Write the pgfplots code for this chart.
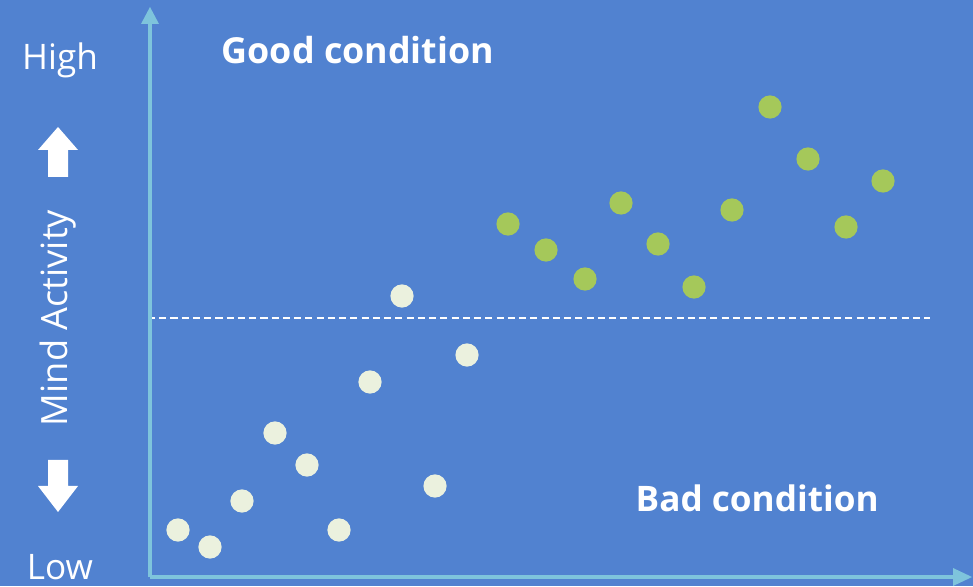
\documentclass[border=0pt]{standalone}
\usepackage{pgfplots}
\pgfplotsset{compat=1.18}
\usepackage{fontspec}
\setmainfont{Open Sans}
\definecolor{bgblue}{HTML}{5182D0}
\definecolor{axcyan}{HTML}{7EC4DC}
\definecolor{ptwhite}{HTML}{EBF1DE}
\definecolor{ptgreen}{HTML}{A5C85A}
\begin{document}
\begin{tikzpicture}
\begin{axis}[
    width=9.73cm, height=5.86cm,
    scale only axis,
    xmin=0, xmax=973, ymin=0, ymax=586,
    axis lines=none,
    axis background/.style={fill=bgblue},
    clip=false,
]
% dashed threshold
\draw[white, line width=0.6pt, dash pattern=on 2pt off 1.2pt] (148,268) -- (930,268);
% axes with arrows
\draw[axcyan, line width=1.4pt] (150,9) -- (150,564);
\fill[axcyan] (141,562) -- (159,562) -- (150,579) -- cycle;
\draw[axcyan, line width=1.4pt] (150,9) -- (955,9);
\fill[axcyan] (953,0) -- (953,18) -- (972,9) -- cycle;
% white arrows
\fill[white] (48,409) -- (68,409) -- (68,436) -- (78,436) -- (58,459) -- (38,436) -- (48,436) -- cycle;
\fill[white] (48,126) -- (68,126) -- (68,100) -- (78,100) -- (58,74) -- (38,100) -- (48,100) -- cycle;
% labels
\node[white, font=\fontsize{10}{12}\selectfont] at (60,526) {High};
\node[white, font=\fontsize{10}{12}\selectfont] at (60,19) {Low};
\node[white, rotate=90, font=\fontsize{10.3}{12}\selectfont] at (58,268) {Mind Activity};
\node[white, anchor=west, inner sep=0pt, font=\fontsize{10.2}{12}\selectfont\bfseries] at (221,536) {Good condition};
\node[white, anchor=west, inner sep=0pt, font=\fontsize{10}{12}\selectfont\bfseries] at (635,88) {Bad condition};
\addplot[only marks, mark=*, mark size=3.1pt, color=ptwhite] coordinates {
(178,56) (210,39) (242,85) (275,153) (307,121) (339,56) (370,204) (402,290) (435,100) (467,231)
};
\addplot[only marks, mark=*, mark size=3.1pt, color=ptgreen] coordinates {
(508,362) (546,336) (585,307) (621,383) (658,342) (694,299) (732,376) (770,479) (808,427) (846,359) (883,405)
};
\end{axis}
\pgfresetboundingbox
\path (current axis.south west) rectangle (current axis.north east);
\end{tikzpicture}
\end{document}
